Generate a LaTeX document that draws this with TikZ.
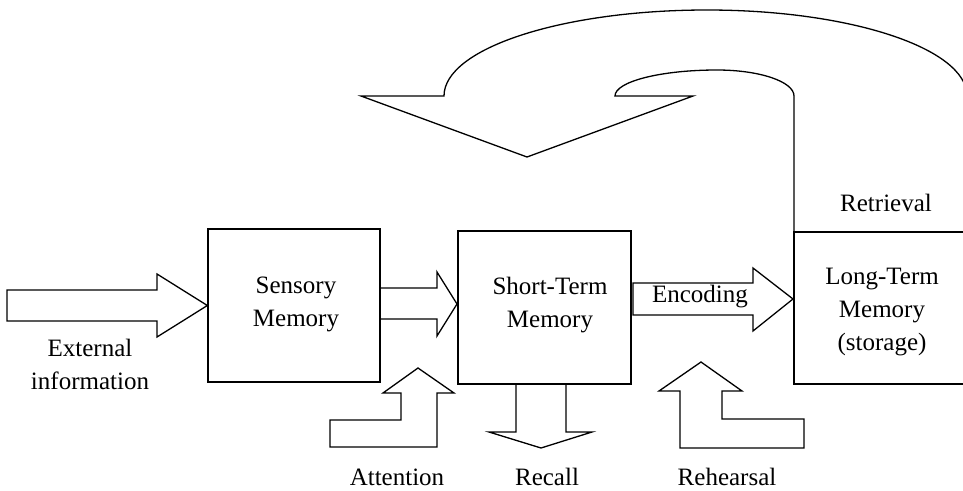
\documentclass[tikz,border=0pt]{standalone}
\usepackage{fontspec}
\setmainfont{Liberation Serif}
\begin{document}
\begin{tikzpicture}[x=1pt,y=-1pt,
  line width=1.3pt, line join=miter,
  lbl/.style={font=\fontsize{25}{33}\selectfont, align=center, inner sep=0pt},
  botlbl/.style={font=\fontsize{25}{33}\selectfont, inner sep=0pt, anchor=base},
  membox/.style={draw, line width=1.3pt, inner sep=0pt},
  blockarrow/.style={draw, line width=1.3pt}]
\useasboundingbox (0,0) rectangle (963,490);
\clip (0,0) rectangle (963,490);
\fill[white] (0,0) rectangle (963,490);

% boxes
\node[membox, minimum width=172pt, minimum height=153pt] (sens) at (294,305.5) {};
\node[membox, minimum width=173pt, minimum height=153pt] (stm) at (544.5,307.5) {};
\coordinate (ltmtl) at (794,232);
\coordinate (ltmbl) at (794,384);
\draw (975,232) -- (ltmtl) -- (ltmbl) -- (975,384);

% texts
\node[lbl] (tsens) at (296,304) {Sensory\\Memory};
\node[lbl] (tstm) at (550,305) {Short-Term\\Memory};
\node[lbl] (tltm) at (882,312) {Long-Term\\Memory\\(storage)};
\node[lbl] (text) at (90,364) {External\\information};
\node[lbl] (tret) at (886,203) {Retrieval};

% external arrow
\draw[blockarrow] (7,290) -- (157,290) -- (157,274) -- (sens.west) -- (157,337) -- (157,321) -- (7,321) -- cycle;
% sensory -> stm
\draw[blockarrow] (380,288) -- (437,288) -- (437,272) -- (457,304) -- (437,336) -- (437,319) -- (380,319);
% encoding
\draw[blockarrow] (633,283) -- (753,283) -- (753,268) -- (793,299) -- (753,331) -- (753,315) -- (633,315) -- cycle;
\node[lbl] (tenc) at (700,297) {Encoding};
% attention
\draw[blockarrow] (418,368) -- (454,393) -- (437,393) -- (437,447) -- (330,447) -- (330,420) -- (401,420) -- (401,393) -- (383,393) -- cycle;
% recall
\draw[blockarrow] (516,384) -- (516,432) -- (489,432) -- (541,448) -- (592,432) -- (566,432) -- (566,384);
% rehearsal
\draw[blockarrow] (701,362) -- (742,391) -- (722,391) -- (722,419) -- (804,419) -- (804,448) -- (680,448) -- (680,391) -- (659,391) -- cycle;

% curved retrieval arrow
\draw (ltmtl) -- (794,96) .. controls (794,81.6) and (759.5,70) .. (717,70)
  .. controls (660.7,70) and (615,81.6) .. (615,96)
  -- (693,96) -- (527,157) -- (361,96) -- (444,96)
  .. controls (444,48.5) and (561.7,10) .. (707,10)
  .. controls (850.6,10) and (967,48.5) .. (967,96) -- (967,232);

% bottom labels
\node[botlbl] (tatt) at (397,485) {Attention};
\node[botlbl] (trec) at (547,485) {Recall};
\node[botlbl] (treh) at (727,485) {Rehearsal};
\end{tikzpicture}
\end{document}
